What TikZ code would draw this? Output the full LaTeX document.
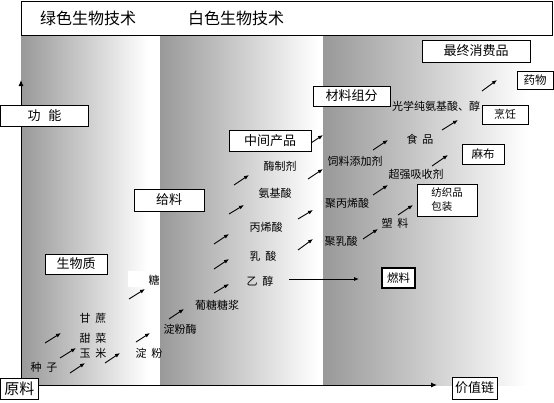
\documentclass[tikz,border=0pt]{standalone}
\usepackage{fontspec}
\setmainfont{Noto Sans CJK SC}
\usetikzlibrary{arrows.meta}
\newcommand{\gap}{\hspace{0.45em}}
\tikzset{
  box/.style={draw, line width=1pt, fill=white, inner sep=0pt, font=\fontsize{13}{15}\selectfont},
  lbl/.style={inner sep=0pt, font=\fontsize{11}{13}\selectfont},
  arr/.style={line width=0.9pt, -{Latex[length=5pt,width=4pt]}},
  axis/.style={line width=1pt, -{Latex[length=6pt,width=5pt]}},
  band/.style={left color=black!40, right color=white}
}
\begin{document}
\begin{tikzpicture}[x=1pt,y=-1pt]
\fill[white] (0,0) rectangle (554,402);
% shaded bands
\shade[band] (21,35) rectangle (148,385);
\shade[band] (160,35) rectangle (318,385);
\shade[band] (323,35) rectangle (528,385);
\fill[white] (128,271) rectangle (160,287);
% top bar
\node[draw, line width=1pt, minimum width=531pt, minimum height=34pt, inner sep=0pt] (techbar) at (286.5,18) {};
\node[font=\fontsize{16}{18}\selectfont] (green) at (88,18) {绿色生物技术};
\node[font=\fontsize{16}{18}\selectfont] (white) at (236,18) {白色生物技术};
% axes
\coordinate (origin) at (21,385);
\draw[axis] (origin) -- (21,80);
\draw[axis] (origin) -- (437,385);
% boxes
\node[box, minimum width=88pt, minimum height=21pt] (gongneng) at (44.5,116) {功\hspace{0.6em}能};
\node[box, minimum width=38pt, minimum height=21pt, font=\fontsize{15}{17}\selectfont] (yuanliao) at (19.5,388.5) {原料};
\node[box, minimum width=45pt, minimum height=22pt] (jiazhi) at (474.5,388) {价值链};
\node[box, minimum width=62pt, minimum height=20pt] (shengwu) at (76,264) {生物质};
\node[box, minimum width=70pt, minimum height=22pt] (geiliao) at (169,200) {给料};
\node[box, minimum width=82pt, minimum height=21pt] (zhongjian) at (270,140.5) {中间产品};
\node[box, minimum width=77pt, minimum height=20pt] (cailiao) at (351.5,96) {材料组分};
\node[box, minimum width=108pt, minimum height=22pt] (zuizhong) at (476,51) {最终消费品};
\node[box, minimum width=36pt, minimum height=18pt, font=\fontsize{11.5}{13}\selectfont] (yaowu) at (535,80) {药物};
\node[box, minimum width=46pt, minimum height=19pt, font=\fontsize{11}{13}\selectfont] (pengren) at (505,114.5) {烹饪};
\node[box, minimum width=42pt, minimum height=20pt, font=\fontsize{11.5}{13}\selectfont] (mabu) at (483,154) {麻布};
\node[box, minimum width=60pt, minimum height=32pt, align=left, font=\fontsize{10.5}{14}\selectfont] (fangzhi) at (447,200) {纺织品\\包装};
\node[box, line width=1.3pt, minimum width=33pt, minimum height=20pt, font=\fontsize{11.5}{13}\selectfont] (ranliao) at (398.5,278) {燃料};
% products
\node[lbl] (zhongzi) at (44,367) {种\gap 子};
\node[lbl] (ganzhe) at (93,318) {甘\gap 蔗};
\node[lbl] (tiancai) at (93,338) {甜\gap 菜};
\node[lbl] (yumi) at (93,353) {玉\gap 米};
\node[lbl] (dianfen) at (149,353) {淀\gap 粉};
\node[lbl] (tang) at (154,280) {糖};
\node[lbl] (dianfenmei) at (180,329) {淀粉酶};
\node[lbl] (tangjiang) at (217,305) {葡糖糖浆};
\node[lbl] (yichun) at (260,281) {乙\gap 醇};
\node[lbl] (rusuan) at (263,256) {乳\gap 酸};
\node[lbl] (bingxi) at (266,227) {丙烯酸};
\node[lbl] (anji) at (275,193) {氨基酸};
\node[lbl] (meizhi) at (280,166) {酶制剂};
\node[lbl] (siliao) at (355,161) {饲料添加剂};
\node[lbl] (jubingxi) at (347,203) {聚丙烯酸};
\node[lbl] (juru) at (341,241) {聚乳酸};
\node[lbl] (suliao) at (395,223) {塑\gap 料};
\node[lbl] (chaoqiang) at (416,174) {超强吸收剂};
\node[lbl] (shipin) at (420,139) {食\gap 品};
\node[lbl] (guangxue) at (436,106) {光学纯氨基酸、醇};
% arrows
\foreach \xa/\ya/\xb/\yb in {45/343/61/333, 60/358/76/348, 70/373/85/363, 105/363/120/353,
  136/342/150/333, 129/299/145/289, 169/319/184/309, 214/293/229/284, 214/269/229/259,
  214/244/229/234, 229/214/244/205, 234/185/249/175, 311/143/323/135, 308/179/323/169,
  298/219/313/210, 298/250/313/239, 363/239/378/229, 373/195/388/185, 373/150/388/140,
  398/215/413/205, 432/166/448/155, 442/130/458/120, 482/91/497/80}{
\draw[arr] (\xa,\ya) -- (\xb,\yb);
}
\coordinate (fuelend) at (359,279);
\draw[arr] (289,279) -- (fuelend);
\end{tikzpicture}
\end{document}
